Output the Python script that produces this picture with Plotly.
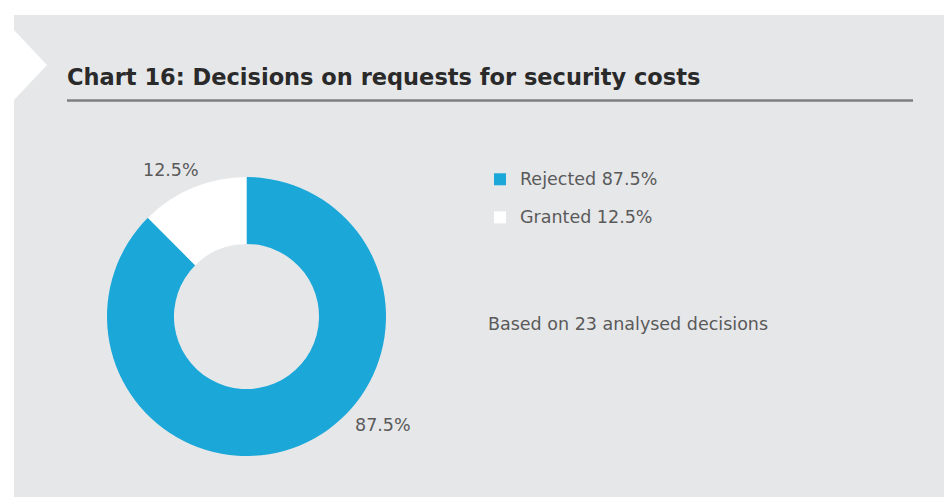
import plotly.graph_objects as go

W, H = 944, 497

categories = ["Rejected", "Granted"]
shares = [87.5, 12.5]
colors = ["#1BA8D9", "#FFFFFF"]
title_text = "Chart 16: Decisions on requests for security costs"
note_text = "Based on 23 analysed decisions"

FONT = "DejaVu Sans"
TXT = "#5A5A5A"

def px(x):
    return x / W

def py(y):
    return 1 - y / H

legend_labels = [f"<span style='font-size:17.5px'>{c} {v:g}%</span><br>&nbsp;"
                 for c, v in zip(categories, shares)]

fig = go.Figure()
fig.add_trace(go.Pie(
    labels=legend_labels,
    values=shares,
    marker=dict(colors=colors, line=dict(width=0)),
    hole=0.52,
    sort=False,
    direction="clockwise",
    rotation=0,
    textinfo="none",
    hoverinfo="percent",
    domain=dict(x=[px(107), px(386)], y=[py(456), py(177)]),
))

# panel with notch
panel = (f"M {px(14)},{py(15)} L {px(944)},{py(15)} L {px(944)},{py(497)} "
         f"L {px(14)},{py(497)} L {px(14)},{py(100)} L {px(47)},{py(65)} "
         f"L {px(14)},{py(30)} Z")
shapes = [
    dict(type="path", path=panel, xref="paper", yref="paper",
         fillcolor="#E6E7E9", line=dict(width=0), layer="below"),
    dict(type="line", xref="paper", yref="paper", x0=px(67), x1=px(913),
         y0=py(100.5), y1=py(100.5), line=dict(color="#7F7F7F", width=2.5)),
]

annotations = [
    dict(text=f"<b>{title_text}</b>", x=px(65), y=py(77), xref="paper", yref="paper",
         xanchor="left", yanchor="middle", showarrow=False,
         font=dict(family=FONT, size=22.5, color="#2A2A2A")),
    dict(text=note_text, x=px(486), y=py(324), xref="paper", yref="paper",
         xanchor="left", yanchor="middle", showarrow=False,
         font=dict(family=FONT, size=17.5, color=TXT)),
    dict(text=f"{shares[1]:g}%", x=px(171), y=py(170), xref="paper", yref="paper",
         xanchor="center", yanchor="middle", showarrow=False,
         font=dict(family=FONT, size=17.5, color=TXT)),
    dict(text=f"{shares[0]:g}%", x=px(383), y=py(425), xref="paper", yref="paper",
         xanchor="center", yanchor="middle", showarrow=False,
         font=dict(family=FONT, size=17.5, color=TXT)),
]

fig.update_layout(
    width=W, height=H,
    margin=dict(l=0, r=0, t=0, b=0),
    paper_bgcolor="#FFFFFF",
    plot_bgcolor="rgba(0,0,0,0)",
    shapes=shapes,
    annotations=annotations,
    showlegend=True,
    legend=dict(x=px(480), y=py(164), xanchor="left", yanchor="top",
                bgcolor="rgba(0,0,0,0)", valign="top",
                font=dict(family=FONT, size=13.5, color=TXT)),
)

fig.write_html("out.html")
